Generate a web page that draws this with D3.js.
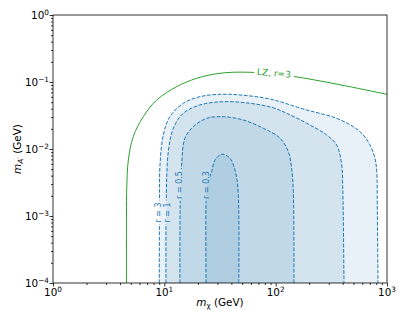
<!DOCTYPE html>
<html>
<head>
<meta charset="utf-8">
<script src="https://cdn.jsdelivr.net/npm/d3@7"></script>
<style>
  body { margin: 0; background: #fff; }
  text { font-family: "DejaVu Sans", sans-serif; }
</style>
</head>
<body>
<div id="chart"></div>
<script>
// LZ exclusion line (m_chi, m_A') in GeV
const lzCurve = [
    [4.57, 1e-4], [4.57, 1e-3], [4.6, 2.74e-3], [4.75, 6.85e-3], [5.26, 0.0153],
    [6.47, 0.0303], [8.54, 0.0539], [12.9, 0.0851], [19.5, 0.1135], [31.6, 0.135],
    [58.9, 0.1396], [155.5, 0.1188], [1000, 0.0655]
];

// contour outlines, one per r value
const contourR = ["3", "1", "0.5", "0.3"];
const contourPts = [
    [[9.01, 1e-4], [9.05, 1.73e-3], [9.14, 5.77e-3], [9.79, 0.0162], [11.2, 0.0303], [14.8, 0.0481],
     [20.9, 0.0604], [31.6, 0.0655], [47.8, 0.064], [89, 0.0557], [177, 0.0395], [353, 0.0287],
     [498, 0.0215], [612, 0.0162], [704, 0.01148], [780, 7.26e-3], [809, 4.58e-3], [818, 1.46e-3],
     [830, 1e-4]],
    [[10.35, 1e-4], [10.4, 1.73e-3], [10.86, 9.12e-3], [12.05, 0.0204], [14.8, 0.0341], [20.9, 0.0454],
     [33.9, 0.0508], [58.9, 0.0481], [94.7, 0.0413], [125.7, 0.0341], [190, 0.0242], [287, 0.0162],
     [353, 0.01148], [392, 5.77e-3], [400, 2.9e-3], [411, 1e-4]],
    [[13.8, 1e-4], [13.9, 1.73e-3], [14.3, 5.77e-3], [15.3, 0.01445], [18.2, 0.0215], [24.0, 0.0287],
     [33.9, 0.0303], [51.2, 0.0271], [77.4, 0.0204], [109, 0.0146], [130, 9.12e-3], [139, 5.2e-3],
     [144, 2.3e-3], [146, 1e-4]],
    [[23.7, 1e-4], [23.7, 1.73e-3], [24.2, 2.9e-3], [26.6, 4.58e-3], [28.5, 6.85e-3], [32.8, 8.34e-3],
     [38.9, 7.26e-3], [43.1, 4.86e-3], [45.9, 2.44e-3], [46.6, 1e-4]]
];
// where each contour label sits (m_chi, m_A')
const contourLabelAt = [[8.83, 1.13e-3], [10.5, 1.13e-3], [13.6, 2.9e-3], [23.8, 2.9e-3]];
const lzLabel = "LZ, r=3";
const lzLabelAt = [96.6, 0.136];

const xMajor = [1, 10, 100, 1000];
const xMajorExp = ["0", "1", "2", "3"];
const yMajor = [1e-4, 1e-3, 1e-2, 1e-1, 1];
const yMajorExp = ["\u22124", "\u22123", "\u22122", "\u22121", "0"];

const width = 407, height = 326;
const mLeft = 53, mRight = 387, mTop = 15, mBottom = 283;
const blue = "#1f77b4", green = "#2ca02c";

const x = d3.scaleLog().domain([1, 1000]).range([mLeft, mRight]);
const y = d3.scaleLog().domain([1e-4, 1]).range([mBottom, mTop]);

let svg = d3.select("#chart").append("svg")
    .attr("width", width)
    .attr("height", height);

let defs = svg.append("defs");
defs.append("clipPath").attr("id", "plot-clip")
    .append("rect")
    .attr("x", mLeft).attr("y", mTop)
    .attr("width", mRight - mLeft).attr("height", mBottom - mTop);

let mask = defs.append("mask").attr("id", "label-mask")
    .attr("maskUnits", "userSpaceOnUse")
    .attr("x", 0).attr("y", 0).attr("width", width).attr("height", height);
mask.append("rect")
    .attr("width", width).attr("height", height)
    .attr("fill", "#fff");

let plot = svg.append("g").attr("clip-path", "url(#plot-clip)");

let line = d3.line()
    .x(d => x(d[0]))
    .y(d => y(d[1]))
    .curve(d3.curveCatmullRom);

// filled regions, stacked so the inner ones get darker
plot.selectAll(".fill")
    .data(contourPts)
    .join("path")
    .attr("class", "fill")
    .attr("d", d => line(d) + "Z")
    .attr("fill", blue)
    .attr("fill-opacity", 0.1)
    .attr("stroke", "none");

let lines = plot.append("g").attr("mask", "url(#label-mask)");

lines.selectAll(".contour")
    .data(contourPts)
    .join("path")
    .attr("class", "contour")
    .attr("d", d => line(d))
    .attr("fill", "none")
    .attr("stroke", blue)
    .attr("stroke-width", 1)
    .attr("stroke-dasharray", "3.7,1.6");

lines.append("path")
    .attr("d", line(lzCurve))
    .attr("fill", "none")
    .attr("stroke", green)
    .attr("stroke-width", 1);

// contour labels, with the line cut out underneath
contourR.forEach((r, i) => {
    let px = x(contourLabelAt[i][0]), py = y(contourLabelAt[i][1]);
    let t = svg.append("text")
        .attr("transform", `translate(${px},${py}) rotate(-90)`)
        .attr("text-anchor", "middle")
        .attr("dy", "0.35em")
        .style("font-size", "8px")
        .attr("fill", blue)
        .text("r = " + r);
    let len = t.node().getComputedTextLength();
    mask.append("rect")
        .attr("x", px - 3.5).attr("y", py - len / 2 - 2)
        .attr("width", 7).attr("height", len + 4)
        .attr("fill", "#000");
});

{
    let px = x(lzLabelAt[0]), py = y(lzLabelAt[1]);
    let t = svg.append("text")
        .attr("transform", `translate(${px},${py}) rotate(5)`)
        .attr("text-anchor", "middle")
        .attr("dy", "0.35em")
        .style("font-size", "9px")
        .attr("fill", green)
        .text(lzLabel);
    let len = t.node().getComputedTextLength();
    mask.append("rect")
        .attr("transform", `translate(${px},${py}) rotate(5)`)
        .attr("x", -len / 2 - 3).attr("y", -5)
        .attr("width", len + 6).attr("height", 10)
        .attr("fill", "#000");
}

// axes
let minorX = [], minorY = [];
for (let e = 0; e < 3; e++) for (let k = 2; k < 10; k++) minorX.push(k * Math.pow(10, e));
for (let e = -4; e < 0; e++) for (let k = 2; k < 10; k++) minorY.push(k * Math.pow(10, e));

function styleAxis(g) {
    g.select(".domain").remove();
    g.selectAll("line").attr("stroke", "#000").attr("stroke-width", 0.8);
}

svg.append("g").attr("transform", `translate(0,${mBottom})`)
    .call(d3.axisBottom(x).tickValues(xMajor).tickFormat("").tickSize(3.5))
    .call(styleAxis);
svg.append("g").attr("transform", `translate(0,${mBottom})`)
    .call(d3.axisBottom(x).tickValues(minorX).tickFormat("").tickSize(2))
    .call(styleAxis);
svg.append("g").attr("transform", `translate(${mLeft},0)`)
    .call(d3.axisLeft(y).tickValues(yMajor).tickFormat("").tickSize(3.5))
    .call(styleAxis);
svg.append("g").attr("transform", `translate(${mLeft},0)`)
    .call(d3.axisLeft(y).tickValues(minorY).tickFormat("").tickSize(2))
    .call(styleAxis);

svg.append("rect")
    .attr("x", mLeft).attr("y", mTop)
    .attr("width", mRight - mLeft).attr("height", mBottom - mTop)
    .attr("fill", "none")
    .attr("stroke", "#000")
    .attr("stroke-width", 0.8);

// tick labels as 10^n
let xl = svg.selectAll(".xtl")
    .data(xMajor)
    .join("text")
    .attr("class", "xtl")
    .attr("x", d => x(d))
    .attr("y", 296)
    .attr("text-anchor", "middle")
    .style("font-size", "10.4px");
xl.append("tspan").text("10");
xl.append("tspan").attr("dy", -4).style("font-size", "7.3px").text((d, i) => xMajorExp[i]);

let yl = svg.selectAll(".ytl")
    .data(yMajor)
    .join("text")
    .attr("class", "ytl")
    .attr("x", 49)
    .attr("y", d => y(d) + 3.7)
    .attr("text-anchor", "end")
    .style("font-size", "10.4px");
yl.append("tspan").text("10");
yl.append("tspan").attr("dy", -4).style("font-size", "7.3px").text((d, i) => yMajorExp[i]);

// axis titles
let xt = svg.append("text")
    .attr("x", (mLeft + mRight) / 2)
    .attr("y", 306)
    .attr("text-anchor", "middle")
    .style("font-size", "10.4px");
xt.append("tspan").style("font-style", "italic").text("m");
xt.append("tspan").attr("dy", 2).style("font-size", "7.3px").text("\u03c7");
xt.append("tspan").attr("dy", -2).text(" (GeV)");

let yt = svg.append("text")
    .attr("transform", `translate(20.5,${(mTop + mBottom) / 2}) rotate(-90)`)
    .attr("text-anchor", "middle")
    .style("font-size", "10.4px");
yt.append("tspan").style("font-style", "italic").text("m");
yt.append("tspan").attr("dy", 2).style("font-size", "7.3px").style("font-style", "italic").text("A\u2032");
yt.append("tspan").attr("dy", -2).text(" (GeV)");
</script>
</body>
</html>
